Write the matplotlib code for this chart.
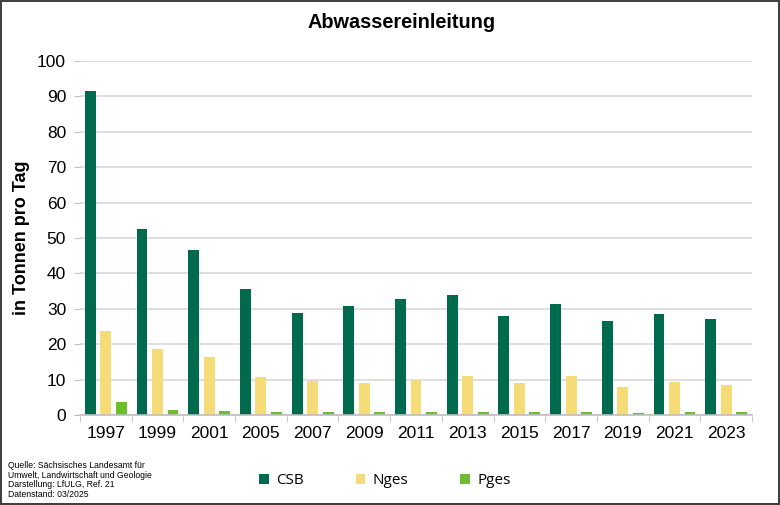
import numpy as np
import matplotlib.pyplot as plt

plt.rcParams['font.family'] = ['Liberation Sans', 'DejaVu Sans']

years = ['1997', '1999', '2001', '2005', '2007', '2009', '2011',
         '2013', '2015', '2017', '2019', '2021', '2023']
csb = [91.5, 52.5, 46.6, 35.5, 28.9, 30.9, 32.7, 33.9, 27.9, 31.4, 26.6, 28.6, 27.0]
nges = [23.8, 18.6, 16.5, 10.6, 9.7, 9.1, 10.0, 10.9, 9.0, 11.1, 8.0, 9.3, 8.6]
pges = [3.8, 1.4, 1.2, 0.95, 0.95, 0.75, 0.8, 0.95, 0.8, 0.8, 0.7, 0.8, 0.8]

c_csb = '#006A4E'
c_nges = '#F5DC78'
c_pges = '#6DBE2E'

fig = plt.figure(figsize=(7.8, 5.05), dpi=100)
fig.patch.set_edgecolor('#404040')
fig.patch.set_linewidth(1.5)
ax = fig.add_axes([80/780, 90/505, 672/780, 354/505])

x = np.arange(len(years))
w = 0.21
ax.bar(x - 0.3, csb, w, color=c_csb, label='CSB')
ax.bar(x, nges, w, color=c_nges, label='Nges')
ax.bar(x + 0.3, pges, w, color=c_pges, label='Pges')

ax.set_xlim(-0.5, len(years) - 0.5)
ax.set_ylim(0, 100)
ax.set_yticks(range(0, 101, 10))
ax.yaxis.grid(True, color='#D9D9D9', linewidth=1.2)
ax.set_axisbelow(True)

ax.set_xticks(x)
ax.set_xticklabels(years)
ax.set_xticks(np.arange(-0.5, len(years)), minor=True)
ax.tick_params(axis='x', which='major', length=0, labelsize=12.5, pad=8)
ax.tick_params(axis='x', which='minor', length=5, color='#BFBFBF')
ax.tick_params(axis='y', length=4, color='#BFBFBF', labelsize=12.5, pad=6)

for s in ['top', 'right', 'left']:
    ax.spines[s].set_visible(False)
ax.spines['bottom'].set_color('#BFBFBF')
ax.spines['bottom'].set_linewidth(1.2)

ax.set_ylabel('in Tonnen pro Tag', fontsize=13, fontweight='bold')
ax.yaxis.set_label_coords(-50/672, 0.5)
fig.text(402/780, 1 - 22/505, 'Abwassereinleitung', ha='center', va='center',
         fontsize=14.3, fontweight='bold')

ax.legend(loc='center', bbox_to_anchor=(385/780, 1 - 481/505), bbox_transform=fig.transFigure,
          ncol=3, frameon=False, handlelength=0.6, handleheight=0.6,
          columnspacing=3.4, handletextpad=0.5, prop={'family': 'Open Sans', 'size': 11})

fig.text(8/780, 1 - 480/505,
         'Quelle: Sächsisches Landesamt für\nUmwelt, Landwirtschaft und Geologie\n'
         'Darstellung: LfULG, Ref. 21\nDatenstand: 03/2025',
         ha='left', va='center', fontsize=6.2, linespacing=1.1)

fig.savefig('out.png', dpi=100, edgecolor=fig.get_edgecolor())
